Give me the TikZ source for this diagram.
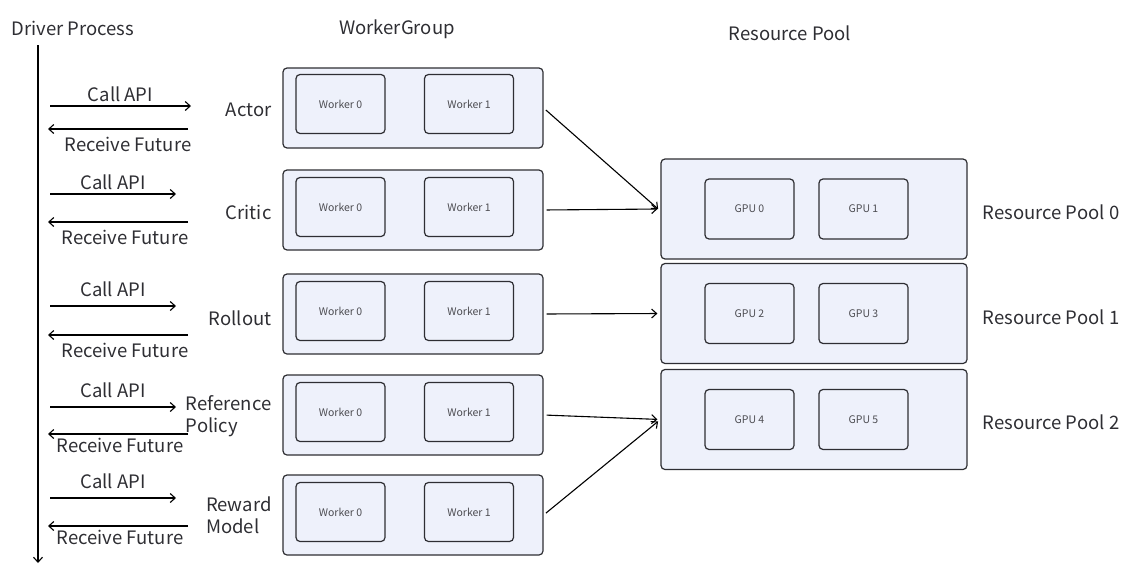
\documentclass[tikz,border=0pt]{standalone}
\usepackage{fontspec}
\setmainfont{Noto Sans CJK SC}
\usetikzlibrary{arrows.meta}
\definecolor{boxfill}{HTML}{EEF1FB}
\definecolor{boxline}{HTML}{2E2E33}
\tikzset{group/.style = {draw=boxline,fill=boxfill,rounded corners=4pt,line width=1.2pt,minimum width=260pt,minimum height=80pt}}
\tikzset{worker/.style = {draw=boxline,fill=boxfill,rounded corners=4pt,line width=1.2pt,minimum width=89pt,minimum height=59pt,font=\fontsize{10.5}{12}\selectfont,text=boxline!85}}
\tikzset{pool/.style = {group,minimum width=306pt,minimum height=100pt}}
\tikzset{gpu/.style = {worker,minimum height=60pt}}
\tikzset{title/.style = {font=\fontsize{18.5}{22}\selectfont,text=boxline}}
\tikzset{flow/.style = {-{Straight Barb[length=5pt,width=9pt]},line width=1.1pt,draw=black}}

\begin{document}
\begin{tikzpicture}[x=1pt,y=-1pt,title]
          \useasboundingbox (0,0) rectangle (1141,581);

          \node (driver) at (73,28) {Driver Process};
          \node (wg) at (397,29) {WorkerGroup};
          \node (rp) at (790,33) {Resource Pool};

          % driver time line
          \coordinate (top) at (38,45);
          \coordinate (bottom) at (38,563);
          \draw[flow] (top) -- (bottom);

          % worker groups
          \node[group] (actor) at (413,108) {};
          \node[group] (critic) at (413,210) {};
          \node[group] (rollout) at (413,314) {};
          \node[group] (ref) at (413,415) {};
          \node[group] (reward) at (413,515) {};
          \node[worker] (actor0) at (340.5,104) {Worker 0};
          \node[worker] (actor1) at (469,104) {Worker 1};
          \node[worker] (critic0) at (340.5,207) {Worker 0};
          \node[worker] (critic1) at (469,207) {Worker 1};
          \node[worker] (rollout0) at (340.5,311) {Worker 0};
          \node[worker] (rollout1) at (469,311) {Worker 1};
          \node[worker] (ref0) at (340.5,412) {Worker 0};
          \node[worker] (ref1) at (469,412) {Worker 1};
          \node[worker] (reward0) at (340.5,512) {Worker 0};
          \node[worker] (reward1) at (469,512) {Worker 1};

          \node[anchor=east] (actorl) at (275,110) {Actor};
          \node[anchor=east] (criticl) at (275,212) {Critic};
          \node[anchor=east] (rolloutl) at (275,318) {Rollout};
          \node[anchor=east,align=left] (refl) at (275,416) {Reference\\Policy};
          \node[anchor=east,align=left] (rewardl) at (275,515) {Reward\\Model};

          % resource pools
          \node[pool] (pool0) at (814,209) {};
          \node[pool] (pool1) at (814,313.5) {};
          \node[pool] (pool2) at (814,419.5) {};
          \node[gpu] (gpu0) at (749.5,209) {GPU 0};
          \node[gpu] (gpu1) at (863.5,209) {GPU 1};
          \node[gpu] (gpu2) at (749.5,313.5) {GPU 2};
          \node[gpu] (gpu3) at (863.5,313.5) {GPU 3};
          \node[gpu] (gpu4) at (749.5,419.5) {GPU 4};
          \node[gpu] (gpu5) at (863.5,419.5) {GPU 5};
          \node (pool0l) at (1051,212) {Resource Pool 0};
          \node (pool1l) at (1051,317) {Resource Pool 1};
          \node (pool2l) at (1051,422) {Resource Pool 2};

          \draw[flow,shorten <=3pt,shorten >=3pt] (actor.east) -- ([yshift=-2pt]pool0.west);
          \draw[flow,shorten <=3pt,shorten >=3pt] (critic.east) -- (pool0.west);
          \draw[flow,shorten <=3pt,shorten >=3pt] (rollout.east) -- (pool1.west);
          \draw[flow,shorten <=3pt,shorten >=3pt] (ref.east) -- (pool2.west);
          \draw[flow,shorten <=3pt,shorten >=3pt] (reward.east) -- (pool2.west);

          % calls from the driver
          \coordinate (call1a) at (50,106);
          \coordinate (call1b) at (191,106);
          \coordinate (recv1a) at (188,129);
          \coordinate (recv1b) at (48,129);
          \coordinate (call2a) at (50,194);
          \coordinate (call2b) at (176,194);
          \coordinate (recv2a) at (188,222);
          \coordinate (recv2b) at (48,222);
          \coordinate (call3a) at (50,306);
          \coordinate (call3b) at (176,306);
          \coordinate (recv3a) at (188,335);
          \coordinate (recv3b) at (48,335);
          \coordinate (call4a) at (50,407);
          \coordinate (call4b) at (176,407);
          \coordinate (recv4a) at (188,434);
          \coordinate (recv4b) at (48,434);
          \coordinate (call5a) at (50,498);
          \coordinate (call5b) at (176,498);
          \coordinate (recv5a) at (188,526);
          \coordinate (recv5b) at (48,526);

          \draw[flow] (call1a) -- node[above=0pt] {Call API} (call1b);
          \draw[flow] (recv1a) -- node[below=4pt,xshift=10pt] {Receive Future} (recv1b);
          \draw[flow] (call2a) -- node[above=0pt] {Call API} (call2b);
          \draw[flow] (recv2a) -- node[below=4pt,xshift=7pt] {Receive Future} (recv2b);
          \draw[flow] (call3a) -- node[above=5pt] {Call API} (call3b);
          \draw[flow] (recv3a) -- node[below=4pt,xshift=7pt] {Receive Future} (recv3b);
          \draw[flow] (call4a) -- node[above=5pt] {Call API} (call4b);
          \draw[flow] (recv4a) -- node[below=0pt,xshift=2pt] {Receive Future} (recv4b);
          \draw[flow] (call5a) -- node[above=5pt] {Call API} (call5b);
          \draw[flow] (recv5a) -- node[below=0pt,xshift=2pt] {Receive Future} (recv5b);
        \end{tikzpicture}
\end{document}
